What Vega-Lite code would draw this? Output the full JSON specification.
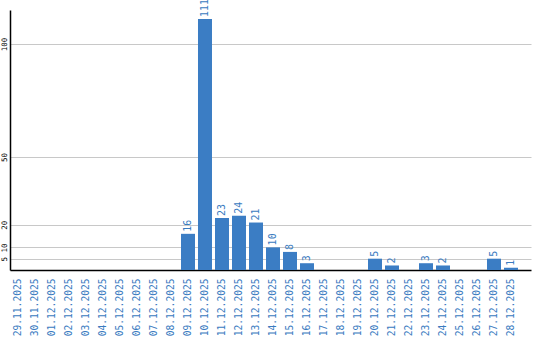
{
  "$schema": "https://vega.github.io/schema/vega-lite/v6.json",
  "width": 521,
  "height": 260,
  "autosize": {"type": "none"},
  "padding": {"left": 10, "top": 10, "right": 9, "bottom": 70},
  "background": "white",
  "config": {"view": {"stroke": null}},
  "data": {"values": [
    {"d": "29.11.2025", "v": 0}, {"d": "30.11.2025", "v": 0}, {"d": "01.12.2025", "v": 0},
    {"d": "02.12.2025", "v": 0}, {"d": "03.12.2025", "v": 0}, {"d": "04.12.2025", "v": 0},
    {"d": "05.12.2025", "v": 0}, {"d": "06.12.2025", "v": 0}, {"d": "07.12.2025", "v": 0},
    {"d": "08.12.2025", "v": 0}, {"d": "09.12.2025", "v": 16}, {"d": "10.12.2025", "v": 111},
    {"d": "11.12.2025", "v": 23}, {"d": "12.12.2025", "v": 24}, {"d": "13.12.2025", "v": 21},
    {"d": "14.12.2025", "v": 10}, {"d": "15.12.2025", "v": 8}, {"d": "16.12.2025", "v": 3},
    {"d": "17.12.2025", "v": 0}, {"d": "18.12.2025", "v": 0}, {"d": "19.12.2025", "v": 0},
    {"d": "20.12.2025", "v": 5}, {"d": "21.12.2025", "v": 2}, {"d": "22.12.2025", "v": 0},
    {"d": "23.12.2025", "v": 3}, {"d": "24.12.2025", "v": 2}, {"d": "25.12.2025", "v": 0},
    {"d": "26.12.2025", "v": 0}, {"d": "27.12.2025", "v": 5}, {"d": "28.12.2025", "v": 1}
  ]},
  "encoding": {
    "x": {"field": "d", "type": "nominal", "sort": null,
      "scale": {"paddingInner": 0.1765, "paddingOuter": 0.4118, "align": 0.071},
      "axis": {"title": null, "labelAngle": -90, "labelAlign": "right", "labelBaseline": "middle",
        "labelFont": "DejaVu Sans Mono", "labelFontSize": 9.6, "labelColor": "#3a7bbf",
        "labelPadding": 8, "ticks": false, "domainColor": "#000000", "domainWidth": 1.5, "grid": false}},
    "y": {"field": "v", "type": "quantitative", "scale": {"domain": [0, 115], "nice": false},
      "axis": {"title": null, "values": [5, 10, 20, 50, 100], "labelAngle": -90, "labelAlign": "center",
        "labelBaseline": "bottom", "labelPadding": 2, "labelFont": "DejaVu Sans Mono", "labelFontSize": 7.5,
        "labelOverlap": false, "labelColor": "#000000", "ticks": false, "domainColor": "#000000", "domainWidth": 1.5,
        "grid": true, "gridColor": "#c8c8c8", "gridWidth": 1}}
  },
  "layer": [
    {"mark": {"type": "bar", "color": "#3b7dc4"}},
    {"transform": [{"filter": "datum.v > 0"}],
     "mark": {"type": "text", "angle": 270, "align": "left", "baseline": "middle", "dx": 2,
       "font": "DejaVu Sans Mono", "fontSize": 10, "color": "#3a7bbf"},
     "encoding": {"text": {"field": "v", "type": "quantitative"}}}
  ]
}
